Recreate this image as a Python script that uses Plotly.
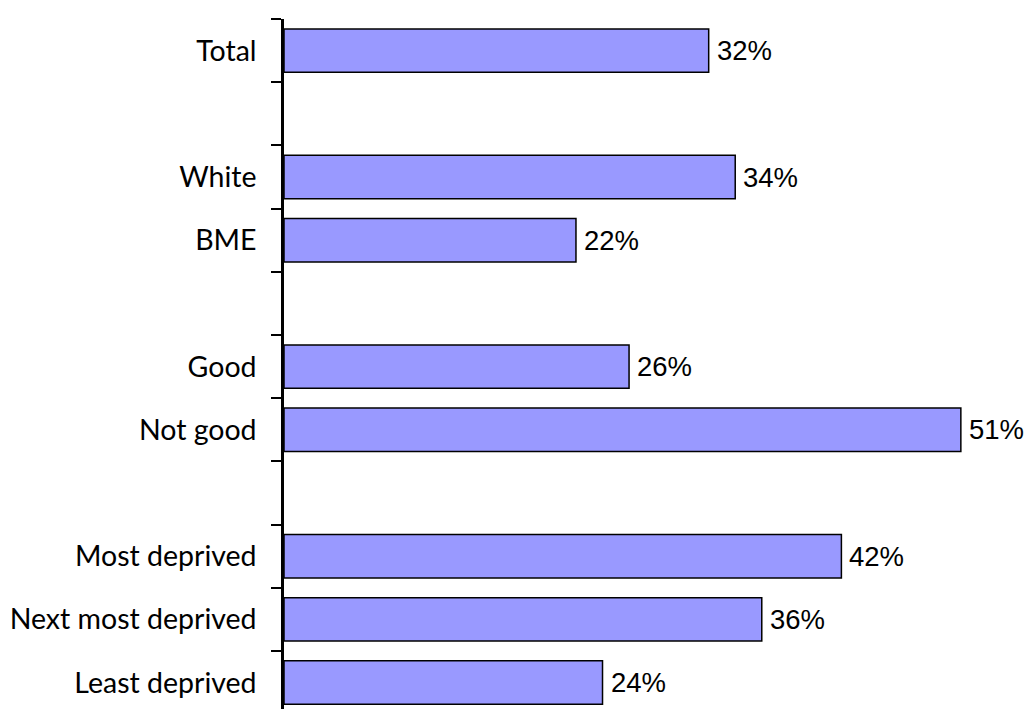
import plotly.graph_objects as go

# Category rows, top to bottom; blank rows separate the groups
categories = ["Total", " ", "White", "BME", "  ", "Good", "Not good", "   ",
              "Most deprived", "Next most deprived", "Least deprived"]
values = [32, None, 34, 22, None, 26, 51, None, 42, 36, 24]

fig = go.Figure()
fig.add_trace(go.Bar(
    x=values,
    y=categories,
    orientation="h",
    marker=dict(color="#9999FF", line=dict(color="#000000", width=1.5)),
    hoverinfo="x+y",
))

# Percentage labels just past the end of each bar
for cat, v in zip(categories, values):
    if v is None:
        continue
    fig.add_annotation(
        x=v, y=cat, text=f"{v}%", showarrow=False,
        xanchor="left", yanchor="middle", xshift=6,
        font=dict(family="Liberation Sans, Arial, sans-serif", size=27.5, color="#000000"),
    )

fig.update_layout(
    width=1028, height=709,
    margin=dict(l=284, r=0, t=19, b=0),
    paper_bgcolor="white", plot_bgcolor="white",
    bargap=0.313,
    showlegend=False,
)
fig.update_xaxes(
    range=[0, 56.06], visible=False, showgrid=False, zeroline=False,
)
fig.update_yaxes(
    type="category", categoryorder="array", categoryarray=categories,
    range=[10.418, -0.5],
    showline=True, linecolor="#000000", linewidth=2.5,
    ticks="outside", tickson="boundaries", ticklen=10, tickwidth=1.5, tickcolor="#000000",
    ticklabelstandoff=19,
    tickfont=dict(family="Lato, Calibri, sans-serif", size=28.5, color="#000000"),
    showgrid=False, zeroline=False,
)

fig.write_html("out.html")
